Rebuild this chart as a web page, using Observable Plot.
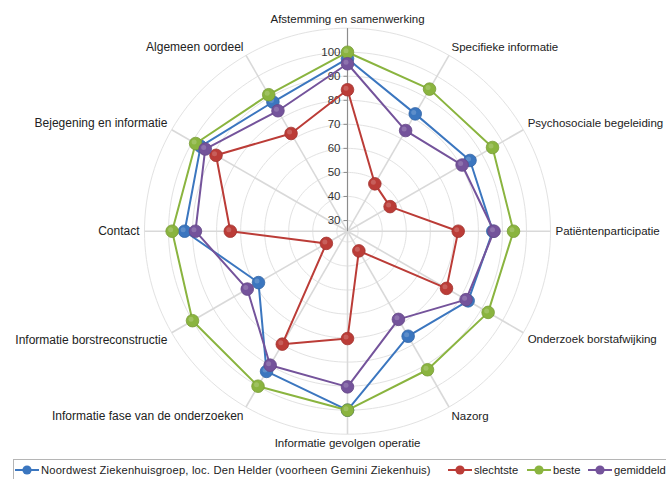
<!DOCTYPE html>
<html>
<head>
<meta charset="utf-8">
<script src="https://cdn.jsdelivr.net/npm/d3@7"></script>
<script src="https://cdn.jsdelivr.net/npm/@observablehq/plot@0.6"></script>
<style>
  html, body { margin: 0; padding: 0; background: #fff; }
  body { width: 666px; height: 479px; overflow: hidden; font-family: "Liberation Sans", Arial, sans-serif; position: relative; }
  #chart svg { display: block; }
  #legend {
    position: absolute; left: 13px; top: 459px; width: 670px; height: 22px;
    border: 1px solid #b5b5b5; box-sizing: border-box;
    font-size: 11.2px; color: #222; white-space: nowrap;
  }
  .item { position: absolute; top: 0; height: 20px; display: flex; align-items: center; }
  .item svg { margin-right: 1px; }
  .item.first span { letter-spacing: 0.2px; }
</style>
</head>
<body>
<div id="chart"></div>
<div id="legend"></div>
<script>
const categories = [
  "Afstemming en samenwerking", "Specifieke informatie", "Psychosociale begeleiding",
  "Patiëntenparticipatie", "Onderzoek borstafwijking", "Nazorg",
  "Informatie gevolgen operatie", "Informatie fase van de onderzoeken",
  "Informatie borstreconstructie", "Contact", "Bejegening en informatie", "Algemeen oordeel"
];
const seriesNames = ["Noordwest Ziekenhuisgroep, loc. Den Helder (voorheen Gemini Ziekenhuis)", "slechtste", "beste", "gemiddeld"];
const seriesColors = ["#3b76bf", "#bb3c37", "#8ab43f", "#74539b"];
const blueValues   = [97.3, 81.9, 84.4, 86.0, 83.5, 76.0, 100, 92.9, 68.3, 93.3, 96.1, 87.6];
const redValues    = [84.4, 48.3, 46.0, 71.6, 73.1, 35.0, 70.2, 79.8, 35.7, 74.3, 88.7, 72.5];
const greenValues  = [100, 93.8, 95.2, 94.6, 93.1, 92.1, 100, 100, 100, 98.5, 98.5, 91.1];
const purpleValues = [95.2, 73.9, 80.6, 86.5, 82.5, 67.9, 90.3, 89.9, 73.7, 88.8, 93.9, 83.4];
const tickValues = [30, 40, 50, 60, 70, 80, 90, 100];
const gridLevels = [30, 40, 50, 60, 70, 80, 90, 100, 110];

const allValues = [blueValues, redValues, greenValues, purpleValues];

// layout (not data)
const legendLeft = [0, 433, 512, 573];

// radial scale parameters
const rMin = 25.55;          // value at the centre
const W = 666, H = 458;
const cx = 347, cy = 230.7, k = 2.404; // px per unit
const n = categories.length;
const ang = i => (2 * Math.PI * i) / n;
const px = (v, i) => (v - rMin) * Math.sin(ang(i));
const py = (v, i) => (v - rMin) * Math.cos(ang(i));

// grid circles
const circlePts = [];
for (const g of gridLevels) {
  for (let a = 0; a < 180; a++) {
    const t = (2 * Math.PI * a) / 180;
    circlePts.push({g, x: (g - rMin) * Math.sin(t), y: (g - rMin) * Math.cos(t)});
  }
}
const outer = gridLevels[gridLevels.length - 1];
const spokes = categories.map((c, i) => ({x1: 0, y1: 0, x2: px(outer, i), y2: py(outer, i)}));

const labelR = rMin + 208 / k;
const labels = categories.map((c, i) => {
  const s = Math.sin(ang(i)), co = Math.cos(ang(i));
  return {
    name: c, x: px(labelR, i), y: py(labelR, i),
    ta: s > 0.1 ? "start" : s < -0.1 ? "end" : "middle",
    la: co > 0.1 ? "bottom" : co < -0.1 ? "top" : "middle"
  };
});

const marks = [
  Plot.line(circlePts, {x: "x", y: "y", z: "g", curve: "linear-closed", stroke: "#e2e2e2", strokeWidth: 1}),
  Plot.link(spokes, {x1: "x1", y1: "y1", x2: "x2", y2: "y2", stroke: "#d9d9d9", strokeWidth: 1.6}),
  Plot.link([0], {x1: 0, y1: 0, x2: 0, y2: outer - rMin, stroke: "#8c8c8c", strokeWidth: 1}),
  Plot.link(tickValues, {x1: -4 / k, x2: 0, y1: d => d - rMin, y2: d => d - rMin, stroke: "#8c8c8c"}),
  Plot.text(tickValues, {x: 0, y: d => d - rMin, text: d => String(d), textAnchor: "end", dx: -7, fill: "#333", fontSize: 11.5})
];
for (const ta of ["start", "end", "middle"]) {
  for (const la of ["top", "bottom", "middle"]) {
    const sub = labels.filter(l => l.ta === ta && l.la === la);
    if (sub.length) marks.push(Plot.text(sub, {x: "x", y: "y", text: "name", textAnchor: ta, lineAnchor: la, fill: "#222", fontSize: ta === "end" ? 12 : 11.5}));
  }
}
allValues.forEach((vals, si) => {
  const pts = vals.map((v, i) => ({x: px(v, i), y: py(v, i), cat: categories[i], v}));
  marks.push(Plot.line(pts, {x: "x", y: "y", curve: "linear-closed", stroke: seriesColors[si], strokeWidth: 2}));
  marks.push(Plot.dot(pts, {x: "x", y: "y", r: 6.3, fill: seriesColors[si], stroke: d3.color(seriesColors[si]).darker(0.4).formatHex(), strokeWidth: 0.8}));
  marks.push(Plot.dot(pts, {x: "x", y: "y", r: 2.5, dx: -1.5, dy: -1.5, fill: "white", fillOpacity: 0.18}));
});

const chart = Plot.plot({
  width: W, height: H,
  margin: 0,
  x: {domain: [-cx / k, (W - cx) / k], range: [0, W], axis: null},
  y: {domain: [-(H - cy) / k, cy / k], range: [H, 0], axis: null},
  style: {fontFamily: "Liberation Sans, Arial, sans-serif", background: "white"},
  marks
});
document.getElementById("chart").appendChild(chart);

const legend = document.getElementById("legend");
seriesNames.forEach((name, i) => {
  const item = document.createElement("div");
  item.className = i === 0 ? "item first" : "item";
  item.style.left = legendLeft[i] + "px";
  item.innerHTML = `<svg width="26" height="12"><line x1="1" y1="6" x2="25" y2="6" stroke="${seriesColors[i]}" stroke-width="2"/><circle cx="13" cy="6" r="4.6" fill="${seriesColors[i]}"/></svg><span>${name}</span>`;
  legend.appendChild(item);
});
</script>
</body>
</html>
